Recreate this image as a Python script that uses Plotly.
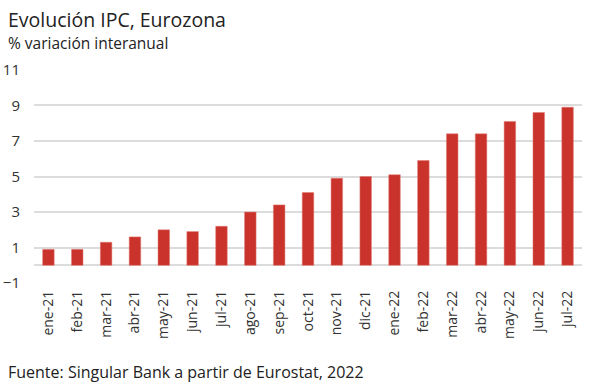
import plotly.graph_objects as go

months = ["ene-21", "feb-21", "mar-21", "abr-21", "may-21", "jun-21", "jul-21",
          "ago-21", "sep-21", "oct-21", "nov-21", "dic-21", "ene-22", "feb-22",
          "mar-22", "abr-22", "may-22", "jun-22", "jul-22"]
ipc = [0.9, 0.9, 1.3, 1.6, 2.0, 1.9, 2.2, 3.0, 3.4, 4.1, 4.9, 5.0, 5.1, 5.9,
       7.4, 7.4, 8.1, 8.6, 8.9]
y_ticks = [-1, 1, 3, 5, 7, 9, 11]

FONT = "Open Sans"
TXT = "#333333"
L, R, T, B = 34, 18, 69, 104
W, H = 600, 388

fig = go.Figure()
fig.add_trace(go.Bar(x=months, y=ipc,
                     marker=dict(color="#c9332b", line=dict(color="#e07a74", width=0.5)),
                     width=0.4))


def px(x, y):
    pw = W - L - R
    ph = H - T - B
    return (x - L) / pw, (H - B - y) / ph


ann = []
for text, x, y, size in [("Evolución IPC, Eurozona", 6, 20, 19.5),
                         ("% variación interanual", 6, 43, 15.5),
                         ("Fuente: Singular Bank a partir de Eurostat, 2022", 6, 372, 16)]:
    xp, yp = px(x, y)
    ann.append(dict(text=text, x=xp, y=yp, xref="paper", yref="paper", showarrow=False,
                    xanchor="left", yanchor="middle", font=dict(size=size, color="#222")))

fig.update_layout(
    width=W, height=H,
    autosize=False,
    margin=dict(l=L, r=R, t=T, b=B, pad=0, autoexpand=False),
    plot_bgcolor="white", paper_bgcolor="white",
    showlegend=False,
    font=dict(family=FONT, color=TXT, size=13),
    xaxis=dict(type="category", tickangle=-90, tickfont=dict(size=14, color=TXT),
               showgrid=False, showline=False, ticks="", range=[-0.5, 18.5],
               automargin=False, ticklabelstandoff=3),
    yaxis=dict(range=[-1.05, 11.05], tickvals=y_ticks, showgrid=True,
               gridcolor="#dcdcdc", gridwidth=1.5, zeroline=True,
               zerolinecolor="#dcdcdc", zerolinewidth=1.5,
               tickfont=dict(size=15, color=TXT), ticks="",
               ticklabelstandoff=13, automargin=False),
    annotations=ann,
)

fig.write_html("out.html", config={"displayModeBar": False},
               post_script="document.body.style.margin='0';document.body.style.overflow='hidden';")
